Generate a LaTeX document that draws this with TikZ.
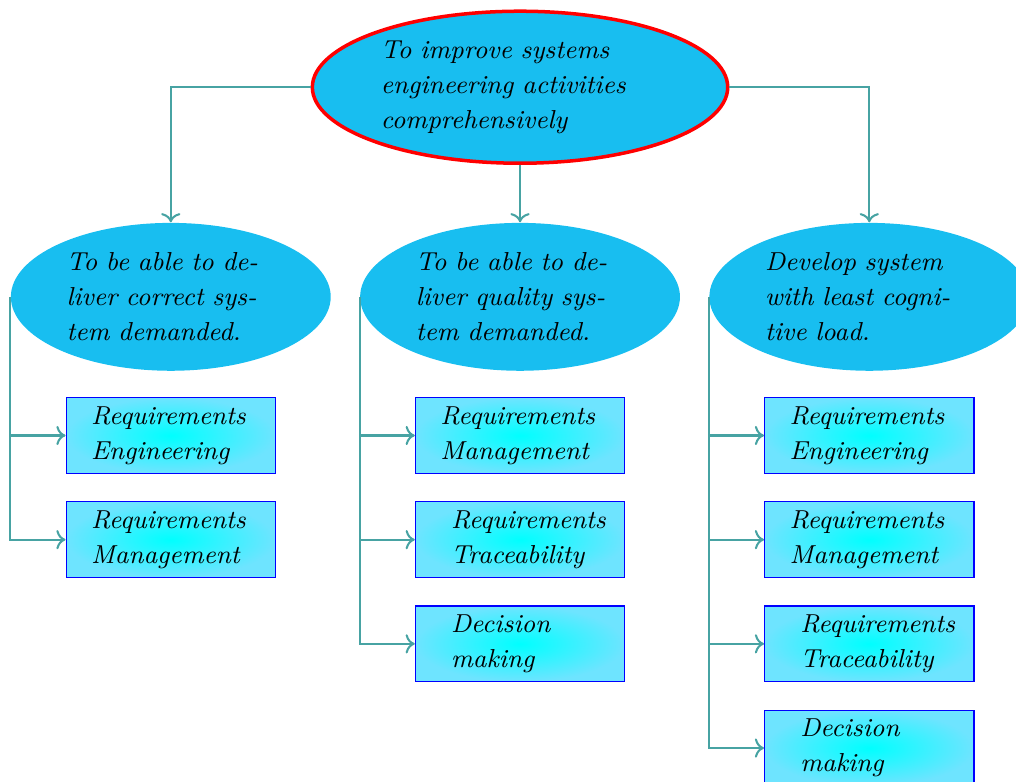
\documentclass[tikz,border=0pt]{standalone}
\usepackage{tikz}
\usetikzlibrary{arrows.meta,positioning,shapes.geometric}
\definecolor{goalblue}{RGB}{24,190,240}
\definecolor{taskouter}{RGB}{110,228,255}
\newcommand{\labelfont}{\fontsize{8.9pt}{12pt}\selectfont\itshape}
\tikzset{
  >={To},
  goal/.style={ellipse,fill=goalblue,inner sep=0pt,text width=2.51cm,align=left,font=\labelfont,minimum width=3.85cm,minimum height=1.78cm},
  topgoal/.style={goal,draw=red,very thick,text width=3.35cm,minimum width=5cm,minimum height=1.83cm},
  task/.style={rectangle,draw=blue,inner color=cyan,outer color=taskouter,inner sep=2pt,text width=1.92cm,align=left,font=\labelfont,minimum width=2.52cm,minimum height=0.91cm},
  link/.style={->,line width=0.7pt,draw=teal!72},
}
\begin{document}
\begin{tikzpicture}
		\useasboundingbox (-6.26,1.05) rectangle (5.97,-8.36);
		\node[topgoal] (root) at (0,0) {To improve systems engineering activities comprehensively};
		\node[goal,below=0.69cm of root] (goal2) {To be able to deliver quality system demanded.};
		\node[goal,left=0.34cm of goal2] (goal1) {To be able to deliver correct system demanded.};
		\node[goal,right=0.34cm of goal2] (goal3) {Develop system with least cognitive load.};

		\node[task,below=0.31cm of goal1] (reqeng1) {Requirements\\Engineering};
		\node[task,below=0.33cm of reqeng1] (reqman1) {Requirements\\Management};

		\node[task,below=0.31cm of goal2] (reqman2) {Requirements\\Management};
		\node[task,text width=1.66cm,below=0.33cm of reqman2] (reqtrace2) {Requirements\\Traceability};
		\node[task,text width=1.66cm,below=0.33cm of reqtrace2] (decide2) {Decision\\making};

		\node[task,below=0.31cm of goal3] (reqeng3) {Requirements\\Engineering};
		\node[task,below=0.33cm of reqeng3] (reqman3) {Requirements\\Management};
		\node[task,text width=1.66cm,below=0.33cm of reqman3] (reqtrace3) {Requirements\\Traceability};
		\node[task,text width=1.66cm,below=0.33cm of reqtrace3] (decide3) {Decision\\making};

		\draw[link] (root.west) -| (goal1.north);
		\draw[link] (root.south) -- (goal2.north);
		\draw[link] (root.east) -| (goal3.north);
		\foreach \t in {reqeng1,reqman1}
			\draw[link] (goal1.west) |- (\t.west);
		\foreach \t in {reqman2,reqtrace2,decide2}
			\draw[link] (goal2.west) |- (\t.west);
		\foreach \t in {reqeng3,reqman3,reqtrace3,decide3}
			\draw[link] (goal3.west) |- (\t.west);
	\end{tikzpicture}
\end{document}
